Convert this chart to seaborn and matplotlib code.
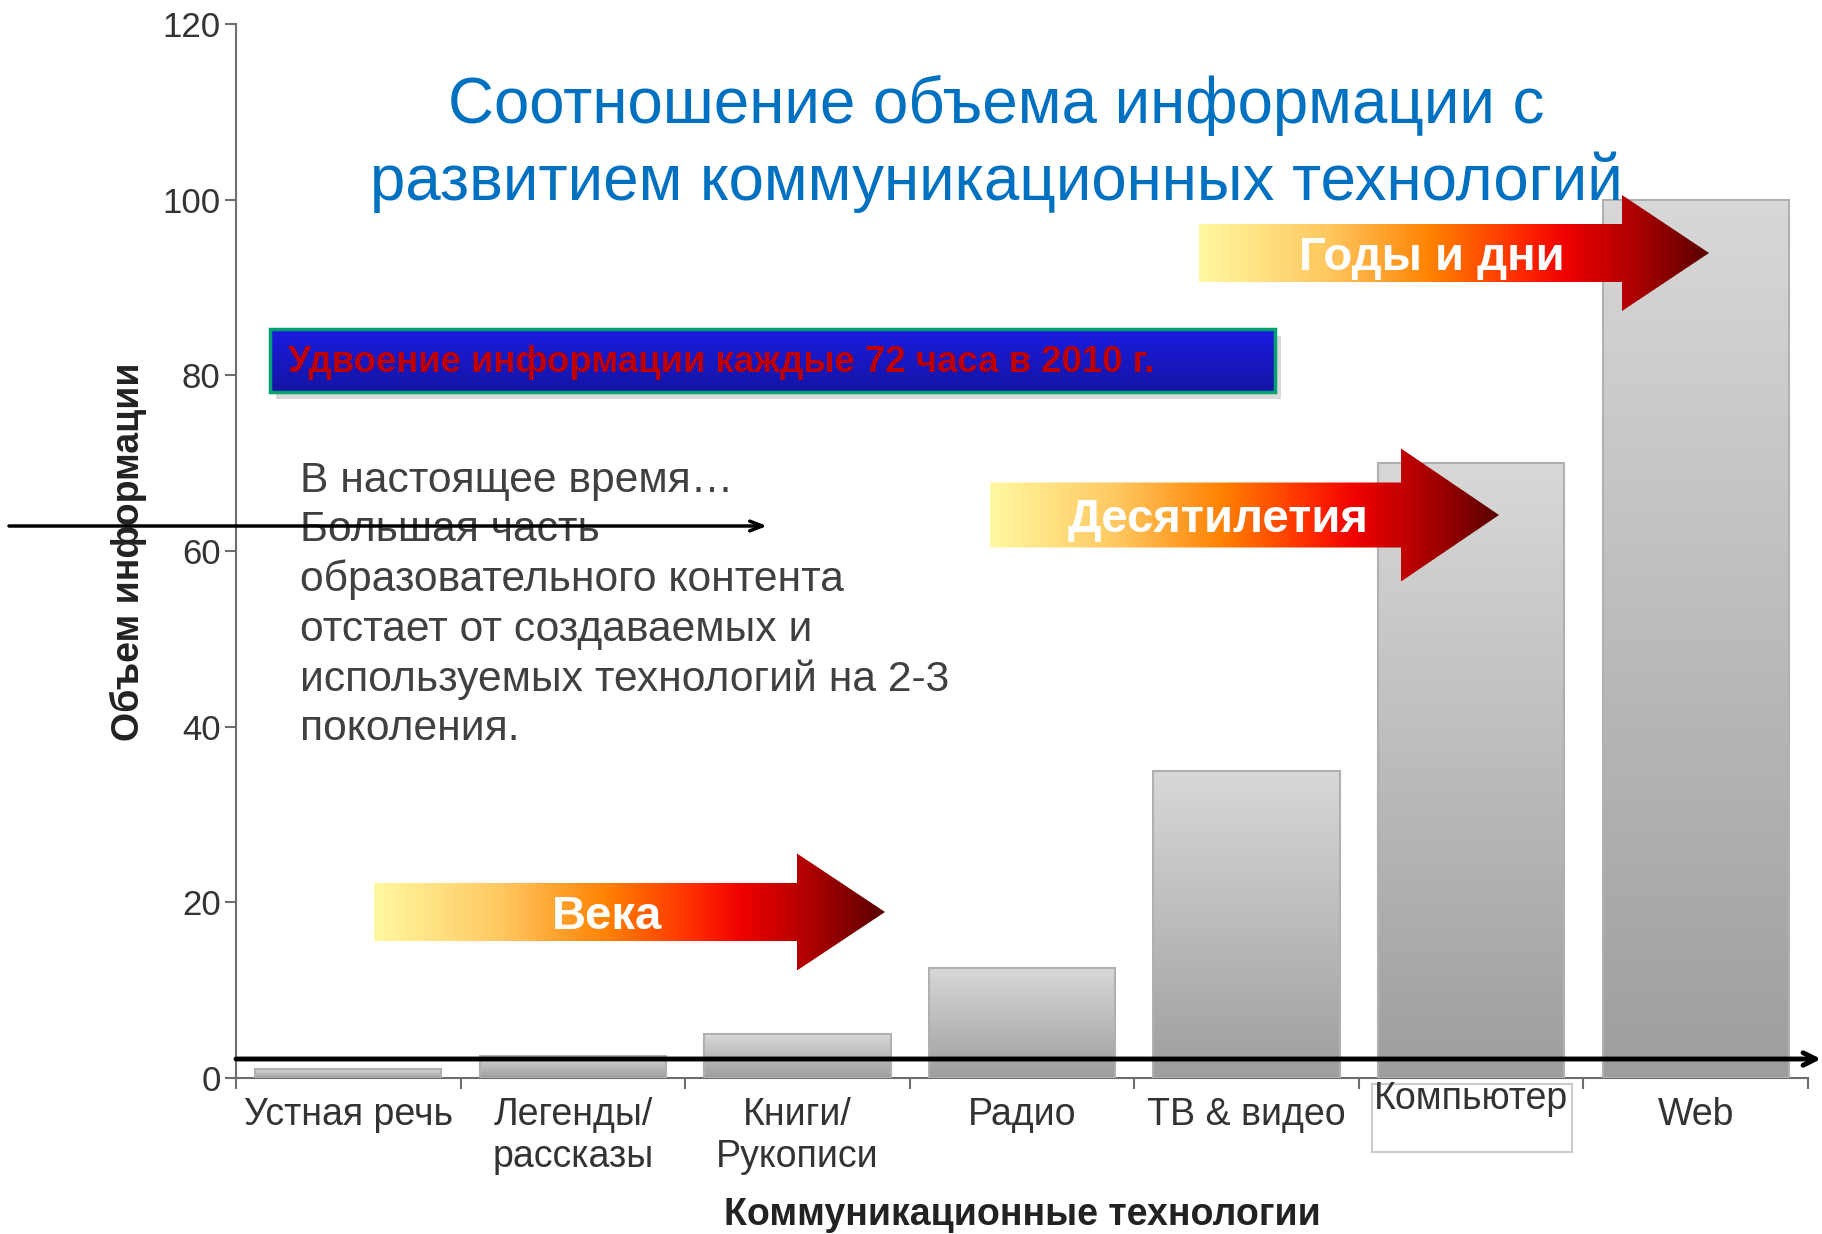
import numpy as np
import pandas as pd
import matplotlib
matplotlib.use("Agg")
import matplotlib.pyplot as plt
import seaborn as sns
import matplotlib.transforms as mtransforms
from matplotlib.colors import LinearSegmentedColormap
from matplotlib.patches import Polygon, Rectangle

# ---- data ----
technologies = ["Устная речь", "Легенды/\nрассказы", "Книги/\nРукописи", "Радио",
                "ТВ & видео", "Компьютер", "Web"]
info_volume = [1, 2.5, 5, 12.5, 35, 70, 100]
y_ticks = [0, 20, 40, 60, 80, 100, 120]

title_text = "Соотношение объема информации с\nразвитием коммуникационных технологий"
banner_text = "Удвоение информации каждые 72 часа в 2010 г."
note_text = ("В настоящее время…\nБольшая часть\nобразовательного контента\n"
             "отстает от создаваемых и\nиспользуемых технологий на 2-3\nпоколения.")
arrow_labels = ["Века", "Десятилетия", "Годы и дни"]

sns.set_style("white")
plt.rcParams["font.family"] = ["Liberation Sans", "DejaVu Sans"]

W, H = 1822, 1234
fig = plt.figure(figsize=(W / 100, H / 100), dpi=100)
ax = fig.add_axes([236 / W, 1 - 1078 / H, (1808 - 236) / W, (1078 - 24) / H])

df = pd.DataFrame({"tech": technologies, "value": info_volume})
sns.barplot(data=df, x="tech", y="value", ax=ax, width=0.83,
            color="#c0c0c0", saturation=1)

# gradient fill for the bars
bar_cmap = LinearSegmentedColormap.from_list("bar", ["#9e9e9e", "#d8d8d8"])
grad = np.linspace(0, 1, 256).reshape(-1, 1)
for p in ax.patches:
    x0, w, h = p.get_x(), p.get_width(), p.get_height()
    im = ax.imshow(grad, cmap=bar_cmap, extent=[x0, x0 + w, 0, h],
                   origin="lower", aspect="auto", zorder=2)
    im.set_clip_path(p)
    p.set_facecolor("none")
    p.set_edgecolor("#b0b0b0")
    p.set_linewidth(1.5)
    p.set_zorder(3)

ax.set_xlim(-0.5, len(technologies) - 0.5)
ax.set_ylim(0, 120)

sns.despine(ax=ax)
for s in ["left", "bottom"]:
    ax.spines[s].set_color("#6e6e6e")
    ax.spines[s].set_linewidth(1.5)

ax.set_yticks(y_ticks)
ax.tick_params(axis="y", length=8, width=1.5, color="#6e6e6e",
               labelsize=25, labelcolor="#333333", pad=3, left=True)

ax.set_xticks(np.arange(len(technologies) + 1) - 0.5)
ax.set_xticklabels([])
ax.set_xticks(np.arange(len(technologies)), labels=technologies, minor=True)
ax.tick_params(axis="x", which="major", length=8, width=1.5, color="#6e6e6e", bottom=True)
ax.tick_params(axis="x", which="minor", length=0, labelsize=27,
               labelcolor="#333333", pad=14)

# "Компьютер" label sits a bit higher
shift = mtransforms.ScaledTranslation(0, 16 / 100, fig.dpi_scale_trans)
lab = ax.get_xticklabels(minor=True)[5]
lab.set_transform(lab.get_transform() + shift)

ax.set_xlabel("Коммуникационные технологии", fontsize=27, fontweight="bold", color="#222222")
ax.xaxis.set_label_coords((1022 - 236) / 1572, (1078 - 1215) / 1054)
ax.xaxis.label.set_va("center")
ax.set_ylabel("Объем информации", fontsize=27, fontweight="bold", color="#222222")
ax.yaxis.set_label_coords((128 - 236) / 1572, (1078 - 552) / 1054)
ax.yaxis.label.set_va("center")

# white box under the "Компьютер" label
fig.add_artist(Rectangle((1372 / W, 1 - 1152 / H), 200 / W, 68 / H,
                         transform=fig.transFigure, facecolor="white",
                         edgecolor="#cccccc", lw=1.5, zorder=-1))

# ---- overlay in pixel coordinates ----
ov = fig.add_axes([0, 0, 1, 1], zorder=5)
ov.set_xlim(0, W)
ov.set_ylim(H, 0)
ov.axis("off")

ov.text(996, 144, title_text, ha="center", va="center", fontsize=45.8,
        color="#0070c0", linespacing=1.32)

# blue banner
ov.add_patch(Rectangle((276, 336), 1005, 63, facecolor="#000000", alpha=0.15,
                       edgecolor="none"))
banner = Rectangle((270, 329), 1005, 63, facecolor="none",
                   edgecolor="#00a070", lw=2.5, zorder=3)
ov.add_patch(banner)
blue_cmap = LinearSegmentedColormap.from_list("blue", ["#1c1ce0", "#1414a4"])
bim = ov.imshow(np.linspace(0, 1, 64).reshape(-1, 1), cmap=blue_cmap,
                extent=[270, 1275, 392, 329], aspect="auto", zorder=2)
bim.set_clip_path(banner)
ov.text(288, 362, banner_text, ha="left", va="center", fontsize=26.4,
        fontweight="bold", color="#c00000", zorder=4)

ov.text(300, 461, note_text, ha="left", va="top", fontsize=30.7,
        color="#404040", linespacing=1.30)

# gradient arrows
arrow_cmap = LinearSegmentedColormap.from_list(
    "arrow", [(0, "#fff8a0"), (0.25, "#ffc860"), (0.46, "#ff8000"),
              (0.62, "#ff3000"), (0.72, "#f00000"), (0.88, "#a00000"),
              (1.0, "#5a0000")])
arrow_shapes = [
    (374, 797, 885, 912, 58, 117, 607),
    (990, 1401, 1499, 515, 65, 133, 1218),
    (1199, 1622, 1709, 253, 58, 116, 1432),
]
for (x0, xn, xt, ym, bh, hh, xc), label in zip(arrow_shapes, arrow_labels):
    pts = [(x0, ym - bh / 2), (xn, ym - bh / 2), (xn, ym - hh / 2), (xt, ym),
           (xn, ym + hh / 2), (xn, ym + bh / 2), (x0, ym + bh / 2)]
    poly = Polygon(pts, closed=True, facecolor="none", edgecolor="none", zorder=3)
    ov.add_patch(poly)
    aim = ov.imshow(np.linspace(0, 1, 256).reshape(1, -1), cmap=arrow_cmap,
                    extent=[x0, xt, ym + hh / 2, ym - hh / 2], aspect="auto", zorder=2)
    aim.set_clip_path(poly)
    ov.text(xc, ym + 5, label, ha="center", va="center", fontsize=34,
            fontweight="bold", color="white", zorder=4)

# black arrows
ov.annotate("", xy=(1821, 1059), xytext=(236, 1059),
            arrowprops=dict(arrowstyle="->,head_length=0.9,head_width=0.45",
                            lw=3.5, color="black", shrinkA=0, shrinkB=0))
ov.annotate("", xy=(767, 526), xytext=(9, 526),
            arrowprops=dict(arrowstyle="->,head_length=0.9,head_width=0.35",
                            lw=2.5, color="black", shrinkA=0, shrinkB=0))

ov.set_xlim(0, W)
ov.set_ylim(H, 0)

plt.savefig("out.png", dpi=100)
